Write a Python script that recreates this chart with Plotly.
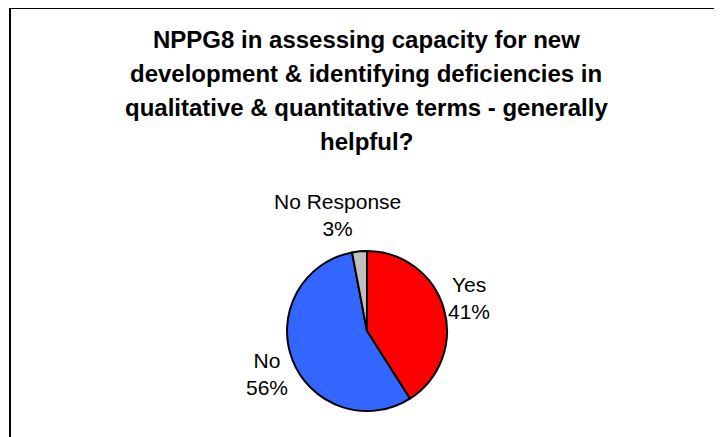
import plotly.graph_objects as go

W, H = 722, 437
OFF = 8  # page body margin offsets the figure in the browser window

categories = ["Yes", "No", "No Response"]
values = [41, 56, 3]
colors = ["#FF0000", "#3366FF", "#C0C0C0"]
title_lines = [
    "NPPG8 in assessing capacity for new",
    "development & identifying deficiencies in",
    "qualitative & quantitative terms - generally",
    "helpful?",
]

# pie geometry in window pixels
cx, cy, r = 367, 331, 80

def px(x):
    return (x - OFF) / W

def py(y):
    return 1 - (y - OFF) / H

fig = go.Figure(go.Pie(
    labels=categories,
    values=values,
    marker=dict(colors=colors, line=dict(color="black", width=2)),
    sort=False,
    direction="clockwise",
    rotation=0,
    textinfo="none",
    hoverinfo="label+percent",
    showlegend=False,
    domain=dict(x=[px(cx - r), px(cx + r)], y=[py(cy + r), py(cy - r)]),
))

annotations = []
title_y = [40, 73.5, 107, 141]
for line, yy in zip(title_lines, title_y):
    annotations.append(dict(
        text="<b>" + line + "</b>", x=px(366), y=py(yy), xref="paper", yref="paper",
        xanchor="center", yanchor="middle", showarrow=False,
        font=dict(family="Liberation Sans, Arial, sans-serif", size=24, color="black"),
    ))

total = sum(values)
label_pos = {"Yes": (469, 297.5), "No": (267, 373.5), "No Response": (337, 215)}
for cat, v in zip(categories, values):
    lx, ly = label_pos[cat]
    annotations.append(dict(
        text=f"{cat}<br>{round(100 * v / total)}%", x=px(lx), y=py(ly),
        xref="paper", yref="paper", xanchor="center", yanchor="middle",
        showarrow=False, align="center",
        font=dict(family="Liberation Sans, Arial, sans-serif", size=21, color="black"),
    ))

fig.update_layout(
    width=W, height=H,
    margin=dict(l=0, r=0, t=0, b=0),
    paper_bgcolor="white",
    plot_bgcolor="white",
    annotations=annotations,
    shapes=[dict(
        type="rect", xref="paper", yref="paper",
        x0=px(10), x1=px(W + 20), y0=py(H + 20), y1=py(8),
        line=dict(color="black", width=2), fillcolor="rgba(0,0,0,0)",
    )],
)

fig.write_html("out.html")
